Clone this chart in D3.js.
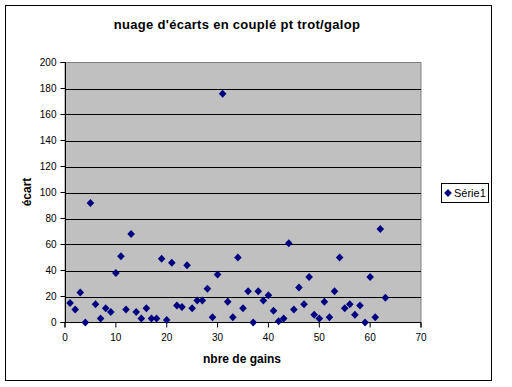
<!DOCTYPE html>
<html><head><meta charset="utf-8">
<script src="https://cdn.jsdelivr.net/npm/d3@7/dist/d3.min.js"></script>
<style>body{margin:0;background:#fff;} text{font-family:"Liberation Sans",Arial,sans-serif;}</style>
</head><body><svg id="c" width="512" height="387"></svg>
<script>
const title = "nuage d'écarts en couplé pt trot/galop";
const xLabel = "nbre de gains";
const yLabel = "écart";
const seriesName = "Série1";
const xValues = d3.range(1, 64);
const yValues = [15,10,23,0,92,14,3,11,8,38,51,10,68,8,3,11,3,3,49,2,46,13,12,44,11,17,17,26,4,37,176,16,4,50,11,24,0,24,17,21,9,1,3,61,10,27,14,35,6,3,16,4,24,50,11,14,6,13,0,35,4,72,19];
const xTicks = [0,10,20,30,40,50,60,70];
const yTicks = [0,20,40,60,80,100,120,140,160,180,200];

const svg = d3.select("#c");
svg.append("rect").attr("x",5.5).attr("y",5.5).attr("width",486).attr("height",375)
  .attr("fill","#fff").attr("stroke","#000");

const L=65, R=421, T=62.5, B=322.5;
const x = d3.scaleLinear().domain([0,70]).range([L,R]);
const y = d3.scaleLinear().domain([0,200]).range([B,T]);

svg.append("rect").attr("x",L).attr("y",T).attr("width",R-L).attr("height",B-T)
  .attr("fill","#C0C0C0").attr("stroke","#808080");

svg.append("g").selectAll("line").data(yTicks.filter(d=>d>0 && d<200)).join("line")
  .attr("x1",L).attr("x2",R).attr("y1",d=>Math.round(y(d))+0.5).attr("y2",d=>Math.round(y(d))+0.5)
  .attr("stroke","#000");

const yAxis = svg.append("g").attr("transform",`translate(${L+0.5},0)`)
  .call(d3.axisLeft(y).tickValues(yTicks).tickSize(5).tickPadding(4).tickFormat(d3.format("d")).offset(0));
const xAxis = svg.append("g").attr("transform",`translate(0,${B})`)
  .call(d3.axisBottom(x).tickValues(xTicks).tickSize(5).tickPadding(6).tickFormat(d3.format("d")).offset(0));
[yAxis,xAxis].forEach(a=>{
  a.selectAll("path,line").attr("stroke","#000");
  a.selectAll("text").attr("font-size",10).attr("fill","#000").attr("font-family","Liberation Sans, Arial, sans-serif");
});

const diamond = "M0,-4L3.8,0L0,4L-3.8,0Z";
svg.append("g").selectAll("path").data(xValues.map((d,i)=>[d,yValues[i]])).join("path")
  .attr("d",diamond).attr("transform",d=>`translate(${x(d[0])},${y(d[1])})`)
  .attr("fill","#000080");

svg.append("text").attr("x",237).attr("y",29).attr("text-anchor","middle")
  .attr("font-size",13).attr("font-weight","bold").attr("letter-spacing",0.3).text(title);
svg.append("text").attr("x",242).attr("y",363).attr("text-anchor","middle")
  .attr("font-size",12).attr("font-weight","bold").text(xLabel);
svg.append("text").attr("transform","translate(31,192) rotate(-90)").attr("text-anchor","middle")
  .attr("font-size",12).attr("font-weight","bold").text(yLabel);

const lg = svg.append("g");
lg.append("rect").attr("x",441.5).attr("y",183.5).attr("width",47).attr("height",19)
  .attr("fill","#fff").attr("stroke","#000");
lg.append("path").attr("d",diamond).attr("transform","translate(448,193)").attr("fill","#000080");
lg.append("text").attr("x",454).attr("y",197).attr("font-size",11).text(seriesName);
</script></body></html>
